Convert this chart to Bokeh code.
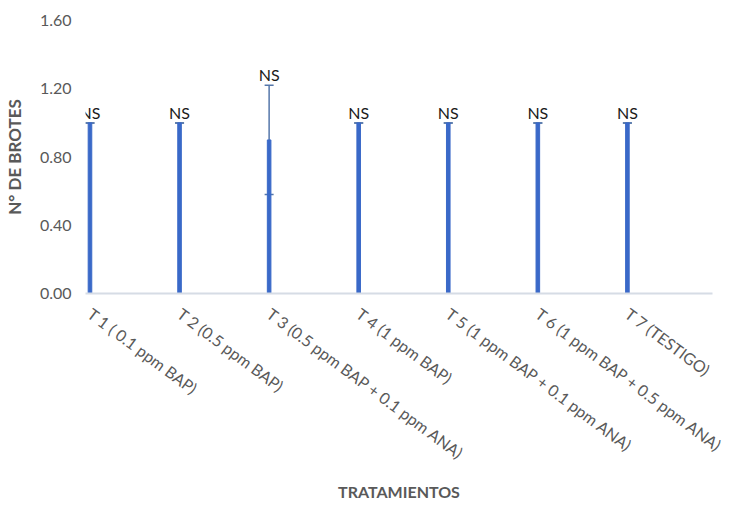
from bokeh.plotting import figure
from bokeh.models import ColumnDataSource, Range1d, FixedTicker, Whisker, LabelSet
from bokeh.core.properties import value
from bokeh.embed import file_html
from bokeh.resources import INLINE

categories = ["T 1 ( 0.1 ppm BAP)", "T 2 (0.5 ppm BAP)", "T 3 (0.5 ppm BAP + 0.1 ppm ANA)",
              "T 4 (1 ppm BAP)", "T 5 (1 ppm BAP + 0.1 ppm ANA)", "T 6 (1 ppm BAP + 0.5 ppm ANA)",
              "T 7 (TESTIGO)"]
means = [1.00, 1.00, 0.90, 1.00, 1.00, 1.00, 1.00]
errors = [0.0, 0.0, 0.32, 0.0, 0.0, 0.0, 0.0]
signif = ["NS"] * 7
y_ticks = [0.0, 0.4, 0.8, 1.2, 1.6]

xs = list(range(len(categories)))
src = ColumnDataSource(dict(
    x=xs, top=means,
    upper=[m + e for m, e in zip(means, errors)],
    lower=[m - e for m, e in zip(means, errors)],
    lab=signif,
))

FONT = "Lato"
GREY = "#595959"

p = figure(width=721, height=496, output_backend="svg", toolbar_location=None,
           x_range=Range1d(-0.05, 6.95), y_range=Range1d(0, 1.6),
           min_border_left=77, min_border_right=17, min_border_top=20, min_border_bottom=0)
p.frame_width = 627
p.frame_height = 273

p.vbar(x="x", top="top", width=0.04, source=src, color="#3A69C8")

w = Whisker(base="x", upper="upper", lower="lower", source=src,
            line_color="#5577AA", line_width=1.5)
w.upper_head.size = 9
w.lower_head.size = 9
w.upper_head.line_color = "#5577AA"
w.lower_head.line_color = "#5577AA"
w.upper_head.line_width = 1.5
w.lower_head.line_width = 1.5
p.add_layout(w)

labels = LabelSet(x="x", y="upper", text="lab", source=src, text_align="center",
                  text_baseline="bottom", y_offset=1, text_font=value(FONT),
                  text_font_size=value("16px"), text_color="#1a1a1a")
p.add_layout(labels)

p.xgrid.visible = False
p.ygrid.visible = False
p.outline_line_color = None

p.yaxis.ticker = FixedTicker(ticks=y_ticks)
p.yaxis.major_label_overrides = {t: f"{t:.2f}" for t in y_ticks}
p.yaxis.axis_line_color = None
p.yaxis.major_tick_line_color = None
p.yaxis.minor_tick_line_color = None
p.yaxis.major_label_text_font = FONT
p.yaxis.major_label_text_font_size = "16px"
p.yaxis.major_label_text_color = GREY
p.yaxis.major_label_standoff = 8
p.yaxis.axis_label = "N° DE BROTES"
p.yaxis.axis_label_text_font = FONT
p.yaxis.axis_label_text_font_size = "17px"
p.yaxis.axis_label_text_font_style = "bold"
p.yaxis.axis_label_text_color = GREY
p.yaxis.axis_label_standoff = 12

p.xaxis.ticker = FixedTicker(ticks=xs)
p.xaxis.major_label_overrides = {i: c for i, c in zip(xs, categories)}
p.xaxis.major_label_orientation = -0.64
p.xaxis.axis_line_color = "#D6DCE5"
p.xaxis.axis_line_width = 2
p.xaxis.major_tick_line_color = None
p.xaxis.minor_tick_line_color = None
p.xaxis.major_label_text_font = FONT
p.xaxis.major_label_text_font_size = "16px"
p.xaxis.major_label_text_color = GREY
p.xaxis.major_label_standoff = 12
p.xaxis.axis_label = "TRATAMIENTOS"
p.xaxis.axis_label_text_font = FONT
p.xaxis.axis_label_text_font_size = "16px"
p.xaxis.axis_label_text_font_style = "bold"
p.xaxis.axis_label_text_color = GREY
p.xaxis.axis_label_standoff = 9

open("out.html", "w").write(file_html(p, INLINE))
